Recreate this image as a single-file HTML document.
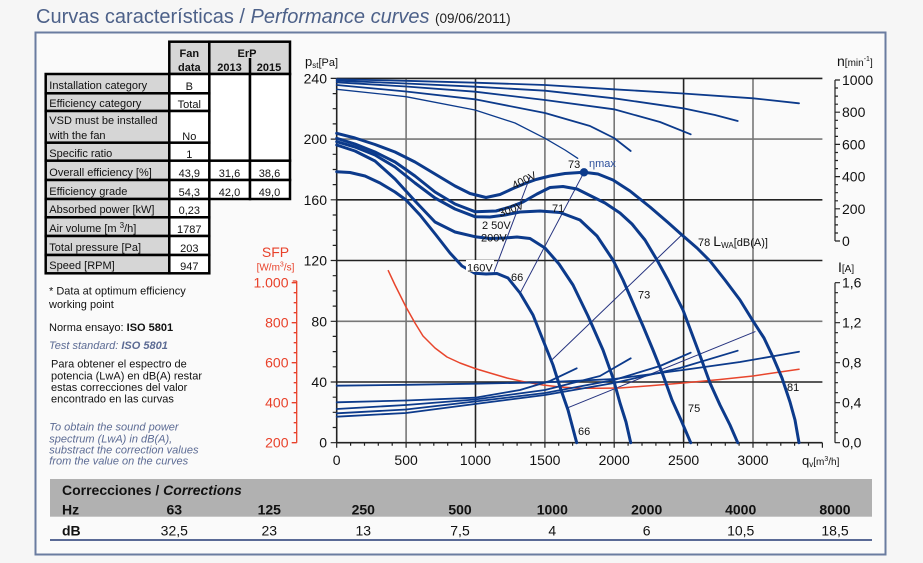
<!DOCTYPE html>
<html><head><meta charset="utf-8"><style>
html,body{margin:0;padding:0;background:#f6f6f6;}
svg{display:block;font-family:"Liberation Sans",Arial,sans-serif;}
</style></head><body>
<svg width="923" height="563" viewBox="0 0 923 563" xmlns="http://www.w3.org/2000/svg">
<rect x="0" y="0" width="923" height="563" fill="#f6f6f6"/>
<text x="36" y="23" font-size="20" fill="#4d6189">Curvas características / <tspan font-style="italic">Performance curves</tspan> <tspan font-size="13.5" fill="#222">(09/06/2011)</tspan></text>
<rect x="35.5" y="32.5" width="850" height="522" fill="#fafafa" stroke="#6a7ca0" stroke-width="2"/>

<!-- Table -->
<g stroke="#000" stroke-width="2.5">
<rect x="169.3" y="41.7" width="40" height="32.3" fill="#d6d6d6"/>
<rect x="209.3" y="41.7" width="80.7" height="32.3" fill="#d6d6d6"/>
<line x1="250" y1="58" x2="250" y2="74"/>
<rect x="209.3" y="74" width="40.7" height="86.7" fill="#fff"/>
<rect x="250" y="74" width="40" height="86.7" fill="#fff"/>
<rect x="209.3" y="160.7" width="40.7" height="19.3" fill="#fff"/>
<rect x="250" y="160.7" width="40" height="19.3" fill="#fff"/>
<rect x="209.3" y="180" width="40.7" height="19" fill="#fff"/>
<rect x="250" y="180" width="40" height="19" fill="#fff"/>
<g fill="#d6d6d6">
<rect x="45.7" y="74" width="123.6" height="19.3"/>
<rect x="45.7" y="93.3" width="123.6" height="17.7"/>
<rect x="45.7" y="111" width="123.6" height="31.7"/>
<rect x="45.7" y="142.7" width="123.6" height="18"/>
<rect x="45.7" y="160.7" width="123.6" height="19.3"/>
<rect x="45.7" y="180" width="123.6" height="19"/>
<rect x="45.7" y="199" width="123.6" height="18.3"/>
<rect x="45.7" y="217.3" width="123.6" height="18.7"/>
<rect x="45.7" y="236" width="123.6" height="19"/>
<rect x="45.7" y="255" width="123.6" height="18.3"/>
</g>
<g fill="#fff">
<rect x="169.3" y="74" width="40" height="19.3"/>
<rect x="169.3" y="93.3" width="40" height="17.7"/>
<rect x="169.3" y="111" width="40" height="31.7"/>
<rect x="169.3" y="142.7" width="40" height="18"/>
<rect x="169.3" y="160.7" width="40" height="19.3"/>
<rect x="169.3" y="180" width="40" height="19"/>
<rect x="169.3" y="199" width="40" height="18.3"/>
<rect x="169.3" y="217.3" width="40" height="18.7"/>
<rect x="169.3" y="236" width="40" height="19"/>
<rect x="169.3" y="255" width="40" height="18.3"/>
</g>
</g>
<g font-size="11" font-weight="bold" text-anchor="middle" fill="#111">
<text x="189.3" y="57">Fan</text><text x="189.3" y="71">data</text>
<text x="247" y="57">ErP</text>
<text x="229.5" y="71">2013</text><text x="269" y="71">2015</text>
</g>
<g font-size="11" fill="#111">
<text x="49.3" y="89">Installation category</text>
<text x="49.3" y="107">Efficiency category</text>
<text x="49.3" y="124">VSD must be installed</text>
<text x="49.3" y="139">with the fan</text>
<text x="49.3" y="157">Specific ratio</text>
<text x="49.3" y="176">Overall efficiency [%]</text>
<text x="49.3" y="195">Efficiency grade</text>
<text x="49.3" y="213">Absorbed power [kW]</text>
<text x="49.3" y="232">Air volume [m <tspan font-size="8" dy="-4">3</tspan><tspan dy="4">/h]</tspan></text>
<text x="49.3" y="251">Total pressure [Pa]</text>
<text x="49.3" y="269">Speed [RPM]</text>
</g>
<g font-size="11" fill="#111" text-anchor="middle">
<text x="189.3" y="90">B</text>
<text x="189.3" y="108">Total</text>
<text x="189.3" y="140">No</text>
<text x="189.3" y="158">1</text>
<text x="189.3" y="177">43,9</text>
<text x="189.3" y="196">54,3</text>
<text x="229.5" y="177">31,6</text>
<text x="229.5" y="196">42,0</text>
<text x="269.5" y="177">38,6</text>
<text x="269.5" y="196">49,0</text>
<text x="189.3" y="214">0,23</text>
<text x="189.3" y="233">1787</text>
<text x="189.3" y="252">203</text>
<text x="189.3" y="270">947</text>
</g>

<!-- Left notes -->
<g font-size="11" fill="#111">
<text x="49" y="294.5">* Data at optimum efficiency</text>
<text x="49" y="308">working point</text>
<text x="49" y="331">Norma ensayo: <tspan font-weight="bold">ISO 5801</tspan></text>
<text x="49" y="349" fill="#5c6b94" font-style="italic">Test standard: <tspan font-weight="bold">ISO 5801</tspan></text>
<text x="51" y="367.3">Para obtener el espectro de</text>
<text x="51" y="379.5">potencia (LwA) en dB(A) restar</text>
<text x="51" y="391.2">estas correcciones del valor</text>
<text x="51" y="402.3">encontrado en las curvas</text>
</g>
<g font-size="11" fill="#5c6b94" font-style="italic">
<text x="49.3" y="430.7">To obtain the sound power</text>
<text x="49.3" y="442.3">spectrum (LwA) in dB(A),</text>
<text x="49.3" y="453.3">substract the correction values</text>
<text x="49.3" y="464.7">from the value on the curves</text>
</g>

<!-- SFP axis -->
<g fill="#e8412a">
<text x="275.5" y="257" font-size="14" text-anchor="middle">SFP</text>
<text x="275.5" y="270.5" font-size="10" text-anchor="middle">[W/m<tspan font-size="7" dy="-4">3</tspan><tspan dy="4">/s]</tspan></text>
<g font-size="14" text-anchor="end">
<text x="288.5" y="287.7">1.000</text>
<text x="288.5" y="327.7">800</text>
<text x="288.5" y="367.7">600</text>
<text x="288.5" y="407.7">400</text>
<text x="288.5" y="447.7">200</text>
</g>
</g>
<path d="M296.7 281 V442.7 M296.7 281 h-4 M296.7 282.7 h-5 M296.7 292.7 h-3 M296.7 302.7 h-3 M296.7 312.7 h-3 M296.7 322.7 h-5 M296.7 332.7 h-3 M296.7 342.7 h-3 M296.7 352.7 h-3 M296.7 362.7 h-5 M296.7 372.7 h-3 M296.7 382.7 h-3 M296.7 392.7 h-3 M296.7 402.7 h-5 M296.7 412.7 h-3 M296.7 422.7 h-3 M296.7 432.7 h-3 M296.7 442.7 h-5" stroke="#e8412a" stroke-width="1.3" fill="none"/>

<!-- Grid -->
<g stroke-width="1.6" fill="none">
<g stroke="#777">
<line x1="406.1" y1="78.4" x2="406.1" y2="442.7"/>
<line x1="544.9" y1="78.4" x2="544.9" y2="442.7"/>
<line x1="614.2" y1="78.4" x2="614.2" y2="442.7"/>
<line x1="753" y1="78.4" x2="753" y2="442.7"/>
<line x1="336.7" y1="139.1" x2="822.4" y2="139.1"/>
<line x1="336.7" y1="321.3" x2="822.4" y2="321.3"/>
</g>
<g stroke="#222">
<line x1="475.5" y1="78.4" x2="475.5" y2="442.7"/>
<line x1="683.6" y1="78.4" x2="683.6" y2="442.7"/>
<line x1="336.7" y1="78.4" x2="822.4" y2="78.4"/>
<line x1="336.7" y1="199.8" x2="822.4" y2="199.8"/>
<line x1="336.7" y1="260.5" x2="822.4" y2="260.5"/>
<line x1="336.7" y1="382" x2="822.4" y2="382"/>
<line x1="336.7" y1="78.4" x2="336.7" y2="442.7"/>
<line x1="336.7" y1="442.7" x2="822.4" y2="442.7"/>
</g>
</g>
<path stroke="#222" stroke-width="1.2" fill="none" d="
M336.7 442.7h-6 M336.7 427.5h-4 M336.7 412.3h-4 M336.7 397.2h-4 M336.7 382h-6 M336.7 366.8h-4 M336.7 351.6h-4 M336.7 336.4h-4 M336.7 321.3h-6 M336.7 306.1h-4 M336.7 290.9h-4 M336.7 275.7h-4 M336.7 260.5h-6 M336.7 245.4h-4 M336.7 230.2h-4 M336.7 215h-4 M336.7 199.8h-6 M336.7 184.6h-4 M336.7 169.5h-4 M336.7 154.3h-4 M336.7 139.1h-6 M336.7 123.9h-4 M336.7 108.7h-4 M336.7 93.6h-4 M336.7 78.4h-6
M336.7 442.7v5 M350.6 442.7v3 M364.5 442.7v3 M378.3 442.7v3 M392.2 442.7v3 M406.1 442.7v5 M420 442.7v3 M433.8 442.7v3 M447.7 442.7v3 M461.6 442.7v3 M475.5 442.7v5 M489.3 442.7v3 M503.2 442.7v3 M517.1 442.7v3 M531 442.7v3 M544.9 442.7v5 M558.7 442.7v3 M572.6 442.7v3 M586.5 442.7v3 M600.4 442.7v3 M614.2 442.7v5 M628.1 442.7v3 M642 442.7v3 M655.9 442.7v3 M669.8 442.7v3 M683.6 442.7v5 M697.5 442.7v3 M711.4 442.7v3 M725.3 442.7v3 M739.1 442.7v3 M753 442.7v5 M766.9 442.7v3 M780.8 442.7v3 M794.6 442.7v3 M808.5 442.7v3 M822.4 442.7v5"/>
<g font-size="14" fill="#111" text-anchor="end">
<text x="327" y="83.4">240</text>
<text x="327" y="144.1">200</text>
<text x="327" y="204.8">160</text>
<text x="327" y="265.5">120</text>
<text x="327" y="326.3">80</text>
<text x="327" y="387">40</text>
<text x="327" y="447.7">0</text>
</g>
<g font-size="14" fill="#111" text-anchor="middle">
<text x="336.7" y="465">0</text>
<text x="406.1" y="465">500</text>
<text x="475.5" y="465">1000</text>
<text x="544.9" y="465">1500</text>
<text x="614.2" y="465">2000</text>
<text x="683.6" y="465">2500</text>
<text x="753" y="465">3000</text>
</g>
<text x="802" y="465" font-size="13" fill="#111">q<tspan font-size="8" dy="2">v</tspan><tspan font-size="10" dy="-2">[m</tspan><tspan font-size="7" dy="-4">3</tspan><tspan font-size="10" dy="4">/h]</tspan></text>
<text x="305" y="66" font-size="13" fill="#111">p<tspan font-size="8" dy="2">st</tspan><tspan font-size="11" dy="-2">[Pa]</tspan></text>

<!-- n axis -->
<path stroke="#222" stroke-width="1.2" fill="none" d="M835 80V241 M835 80h5 M835 88h3 M835 96.1h3 M835 104.2h3 M835 112.2h5 M835 120.3h3 M835 128.3h3 M835 136.4h3 M835 144.4h5 M835 152.5h3 M835 160.5h3 M835 168.6h3 M835 176.6h5 M835 184.7h3 M835 192.7h3 M835 200.8h3 M835 208.8h5 M835 216.9h3 M835 224.9h3 M835 233h3 M835 241h5"/>
<g font-size="14" fill="#111">
<text x="842" y="85">1000</text>
<text x="842" y="117.2">800</text>
<text x="842" y="149.4">600</text>
<text x="842" y="181.6">400</text>
<text x="842" y="213.8">200</text>
<text x="842" y="246">0</text>
</g>
<text x="837" y="66" font-size="14" fill="#111">n<tspan font-size="10">[min</tspan><tspan font-size="7" dy="-5">-1</tspan><tspan font-size="10" dy="5">]</tspan></text>

<!-- I axis -->
<path stroke="#222" stroke-width="1.2" fill="none" d="M835 282.7V442.7 M835 282.7h5 M835 292.7h3 M835 302.7h3 M835 312.7h3 M835 322.7h5 M835 332.7h3 M835 342.7h3 M835 352.7h3 M835 362.7h5 M835 372.7h3 M835 382.7h3 M835 392.7h3 M835 402.7h5 M835 412.7h3 M835 422.7h3 M835 432.7h3 M835 442.7h5"/>
<g font-size="14" fill="#111">
<text x="842" y="287.7">1,6</text>
<text x="842" y="327.7">1,2</text>
<text x="842" y="367.7">0,8</text>
<text x="842" y="407.7">0,4</text>
<text x="842" y="447.7">0,0</text>
</g>
<text x="838" y="272" font-size="14" fill="#111">I<tspan font-size="10">[A]</tspan></text>

<!-- Curves -->
<g fill="none" stroke-linejoin="round" stroke-linecap="round">
<g stroke="#26337f" stroke-width="1">
<line x1="494" y1="272" x2="530" y2="177"/>
<line x1="520" y1="293.3" x2="584" y2="172.3"/>
<line x1="681.7" y1="235" x2="551.7" y2="360"/>
<line x1="755" y1="331.7" x2="568" y2="407.7"/>
</g>
<polyline stroke="#e8452c" stroke-width="1.5" points="388.3,270.7 395,285 406,307 415,323 423,336 435,348 447,357 460,363 475,368.5 490,373 507,378 525,382 543,385 560,387 580,388.3 600,388.3 620,388 650,385.7 683,383 720,379.5 753,376 780,372 799,369.3"/>
<g stroke="#0c3a8b" stroke-width="1.8">
<polyline points="336.7,79.3 406,80.8 475,82.7 545,85 614,89.3 683,93.5 753,98.3 799,103.3"/>
<polyline points="336.7,80.7 406,83.5 475,86.7 545,90.7 614,98.3 683,108.3 715,115 737.7,121"/>
<polyline points="336.7,82.3 406,86.5 475,91.7 545,100 614,109.3 660,122 690.7,134.3"/>
<polyline points="336.7,85 406,91.5 475,99.3 545,113 590,126 614,138 630.7,151"/>
<polyline stroke-width="1.3" points="336.7,89.3 406,96.7 475,110 515,123 545,138.3 565,150 577.7,158.3"/>
</g>
<g stroke="#0c3a8b" stroke-width="1.8">
<polyline points="336.7,385.7 406,384.8 475,383.7 545,382.3 614,379 683,370 740,362 799,351.7"/>
<polyline points="336.7,416.7 406,413 475,404 545,395 614,383 680,368 737.7,350.7"/>
<polyline points="336.7,413.3 406,409.5 475,401.5 545,393 614,380 660,366 690.7,352.7"/>
<polyline points="336.7,409 406,405 475,399.5 545,390 600,376 630.7,358.3"/>
<polyline points="336.7,402.3 406,400.5 475,397.7 520,390 550,381 576.7,368.3"/>
</g>
<g stroke="#0c3a8b" stroke-width="3">
<polyline points="336.7,133.3 355,138 375,144.5 395,152 415,162 435,174 455,186 470,193.5 486,197.5 500,194.5 513,188.5 525,183.5 536,179.5 550,176 565,173.5 584,172.3 598,174 613,180 630,191 650,207 668,222.5 682,235 697,248 710,261 725,280 740,300 753,321 764,338 773,357 782,378 790,402 795,420 799,442.7"/>
<polyline points="336.7,138.3 355,144 375,152 395,162 415,176 435,192 455,204 475,211.7 496,211 510,207 523,202 537,194 550,187.5 563,186.5 577,189 590,195.5 605,203 620,213 632,224 645,240 657,260 668,280 683,310 698,350 710,383 720,405 730,425 737.7,442.7"/>
<polyline points="336.7,141.7 355,147 375,155 395,167 415,183 435,198 455,209 475,216.7 490,217 505,215 520,212 540,211 560,212.5 580,220 597,236 613,260 623,280 633,303 643,326 653,350 663,375 672,400 681,420 690.7,442.7"/>
<polyline points="336.7,145 355,151 375,161 395,179 415,201 435,222 455,232 475,236.7 490,238.5 505,238 517,237 530,238.5 545,248 559,264 573,285 588,316 603,350 613,378 620,403 626,422 630.7,442.7"/>
<polyline points="336.7,171.7 350,172.5 365,176 380,183 395,192 406,200 420,215 436,235 450,253 462,266 475,273.3 486,274 497,273.5 508,278 520,293 533,315 545,345 553,365 560,387 568,410 576.7,442.7"/>
</g>
</g>
<circle cx="584" cy="172.3" r="4.2" fill="#0c3a8b"/>

<rect x="466" y="260" width="28" height="12" fill="#fff"/>
<g font-size="11" fill="#111">
<text x="568" y="168">73</text>
<text x="589" y="167" fill="#2c4f9c">ηmax</text>
<text x="524" y="184" text-anchor="middle" transform="rotate(-27 524 180)">400V</text>
<text x="511" y="213" text-anchor="middle" transform="rotate(-20 511 209)">300V</text>
<text x="482" y="229">2 50V</text>
<text x="481" y="241.5">200V</text>
<text x="467" y="271.5">160V</text>
<text x="552" y="212">71</text>
<text x="511" y="281">66</text>
<text x="638" y="298.5">73</text>
<text x="698" y="246">78 <tspan font-size="14">L</tspan><tspan font-size="8" dy="2">WA</tspan><tspan dy="-2">[dB(A)]</tspan></text>
<text x="787" y="391">81</text>
<text x="688" y="412">75</text>
<text x="578" y="435">66</text>
</g>

<rect x="50" y="479" width="822" height="37.7" fill="#b1b1b1"/>
<line x1="50" y1="540" x2="872" y2="540" stroke="#5a6a96" stroke-width="2"/>
<text x="62" y="495" font-size="14" font-weight="bold" fill="#111">Correcciones / <tspan font-style="italic">Corrections</tspan></text>
<g font-size="14" font-weight="bold" fill="#111">
<text x="62" y="514.5">Hz</text>
<text x="62" y="535.5">dB</text>
</g>
<g font-size="14" font-weight="bold" fill="#111" text-anchor="middle">
<text x="174.3" y="514.5">63</text>
<text x="269.3" y="514.5">125</text>
<text x="363.3" y="514.5">250</text>
<text x="460" y="514.5">500</text>
<text x="552.3" y="514.5">1000</text>
<text x="646.7" y="514.5">2000</text>
<text x="740.7" y="514.5">4000</text>
<text x="835" y="514.5">8000</text>
</g>
<g font-size="14" fill="#111" text-anchor="middle">
<text x="174.3" y="535.5">32,5</text>
<text x="269.3" y="535.5">23</text>
<text x="363.3" y="535.5">13</text>
<text x="460" y="535.5">7,5</text>
<text x="552.3" y="535.5">4</text>
<text x="646.7" y="535.5">6</text>
<text x="740.7" y="535.5">10,5</text>
<text x="835" y="535.5">18,5</text>
</g>
</svg>
</body></html>
